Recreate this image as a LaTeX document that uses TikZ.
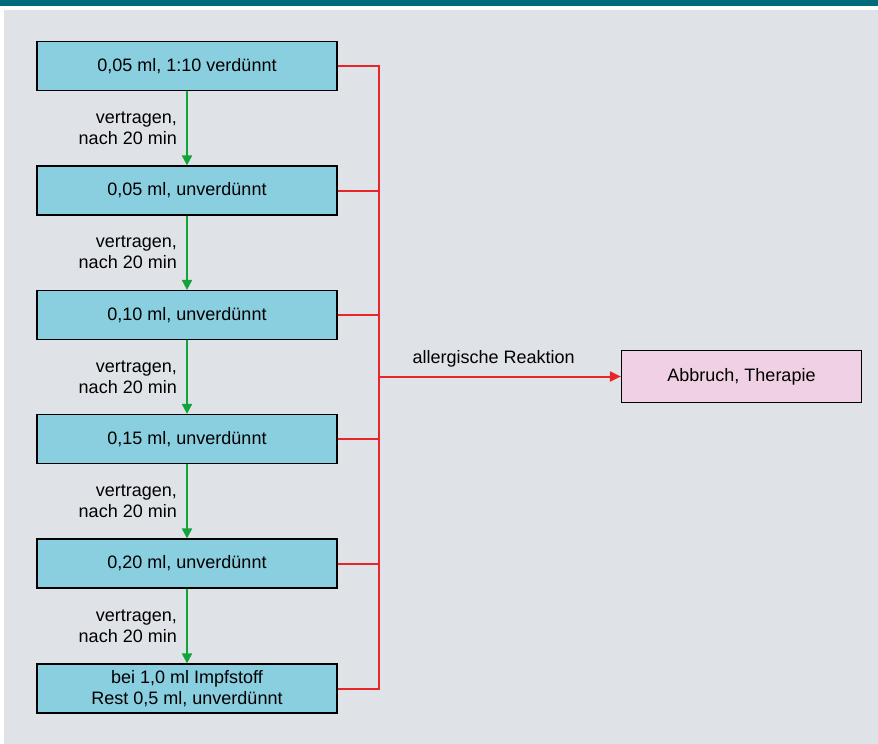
\documentclass[tikz,border=0pt]{standalone}
\usepackage{fontspec}
\setmainfont{Liberation Sans}
\usetikzlibrary{arrows.meta, calc}
\definecolor{bgrey}{RGB}{223,227,231}
\definecolor{teal}{RGB}{0,107,122}
\definecolor{boxblue}{RGB}{137,207,224}
\definecolor{boxpink}{RGB}{240,208,228}
\definecolor{redline}{RGB}{232,38,42}
\definecolor{greenline}{RGB}{18,163,58}
\tikzset{
  stepbox/.style={draw=black,line width=1.2pt,fill=boxblue,minimum width=300pt,minimum height=49pt,inner sep=0pt,align=center},
  endbox/.style={draw=black,line width=1.2pt,fill=boxpink,minimum width=240pt,minimum height=52pt,inner sep=0pt},
  okarrow/.style={greenline,line width=2pt,-{Triangle[length=10pt,width=10pt]}},
  reaction/.style={redline,line width=2pt},
  steplabel/.style={anchor=east,align=right,inner sep=0pt}
}
\begin{document}
\begin{tikzpicture}[x=1pt,y=-1pt,font=\fontsize{18}{21}\selectfont]
  \useasboundingbox (0,0) rectangle (878,744);
  \fill[teal] (0,0) rectangle (878,5.5);
  \fill[bgrey] (4,10) rectangle (878,744);
  \path (187,66) node[stepbox] (b1) {0,05 ml, 1:10 verdünnt}
  (187,190.5) node[stepbox] (b2) {0,05 ml, unverdünnt}
  (187,315) node[stepbox] (b3) {0,10 ml, unverdünnt}
  (187,439) node[stepbox] (b4) {0,15 ml, unverdünnt}
  (187,563.5) node[stepbox] (b5) {0,20 ml, unverdünnt}
  (187,688.5) node[stepbox] (b6) {bei 1,0 ml Impfstoff\\Rest 0,5 ml, unverdünnt}
  (741.5,376.5) node[endbox] (abbruch) {Abbruch, Therapie};
  \foreach \a/\b in {b1/b2,b2/b3,b3/b4,b4/b5,b5/b6} {
    \draw[okarrow] (\a.south) -- (\b.north);
    \node[steplabel] at ($(\a.south)!0.5!(\b.north)+(-10,0)$) {vertragen,\\nach 20 min};
  }
  % red bus on the right
  \coordinate (bus) at ($(b1.east)+(41,0)$);
  \draw[reaction] (b1.east) -- (bus) -- (bus |- b6.east) -- (b6.east);
  \foreach \n in {b2,b3,b4,b5}
    \draw[reaction] (\n.east) -- (bus |- \n.east);
  \draw[reaction,-{Triangle[length=11pt,width=10pt]}] (bus |- abbruch.west) -- node[above=5pt,xshift=-6pt,text=black] {allergische Reaktion} (abbruch.west);
\end{tikzpicture}
\end{document}
